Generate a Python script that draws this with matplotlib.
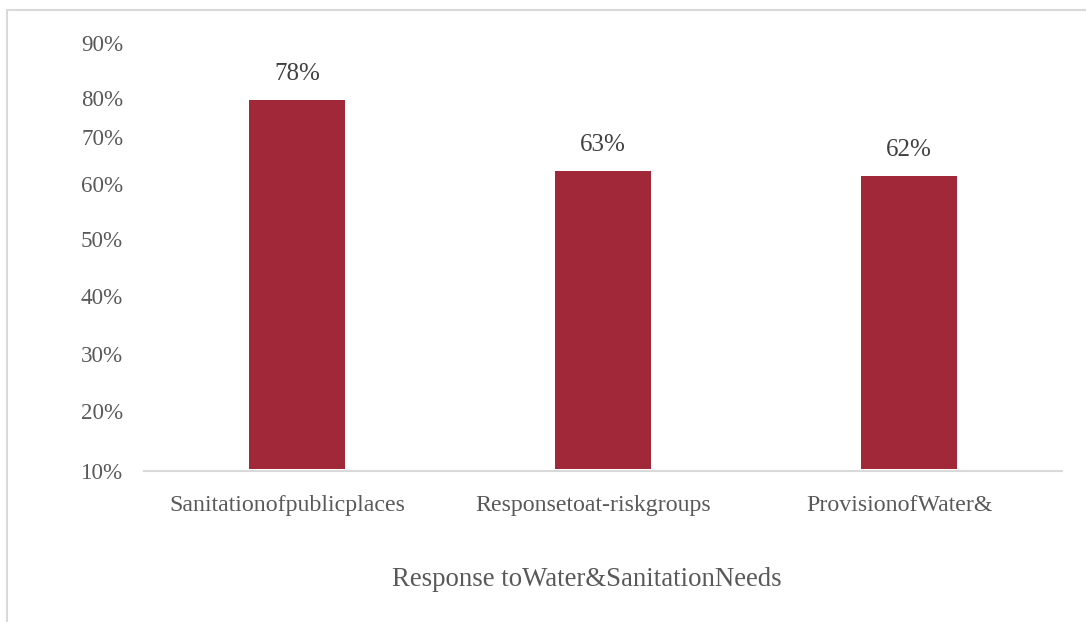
import matplotlib
matplotlib.use("Agg")
import matplotlib.pyplot as plt
from matplotlib.patches import Rectangle
from matplotlib.transforms import ScaledTranslation

# ---- data ----
categories = ["Sanitationofpublicplaces", "Responsetoat-riskgroups", "ProvisionofWater&"]
values = [78, 63, 62]
value_labels = ["78%", "63%", "62%"]
ytick_labels = ["10%", "20%", "30%", "40%", "50%", "60%", "70%", "80%", "90%"]
xlabel_text = "Response toWater&SanitationNeeds"

# ---- layout (uneven tick label placement as in the source) ----
ytick_pos = [-0.4, 12.2, 24.4, 36.6, 48.7, 60.3, 70.2, 78.4, 89.9]

W, H = 1086, 622
fig = plt.figure(figsize=(W / 100, H / 100), dpi=100)
plt.rcParams['font.family'] = ['Liberation Serif', 'DejaVu Serif']

ax = fig.add_axes([144 / W, (H - 471) / H, (1062 - 144) / W, (471 - 43) / H])

bar_color = "#A12838"
x = list(range(len(categories)))
ax.bar(x, values, width=0.314, color=bar_color, zorder=3)
ax.set_xlim(-0.5, len(categories) - 0.5)
ax.set_ylim(0, 90)

for xi, v, lab in zip(x, values, value_labels):
    ax.annotate(lab, (xi, v), xytext=(0, 18.5), textcoords="offset points",
                ha="center", va="center", fontsize=18, color="#404040")

ax.set_xticks(x)
ax.set_xticklabels(categories, fontsize=17.2, color="#595959")
ax.set_yticks(ytick_pos)
ax.set_yticklabels(ytick_labels, fontsize=16.6, color="#595959")
ax.tick_params(axis="both", length=0)
ax.tick_params(axis="x", pad=17)
ax.tick_params(axis="y", pad=15)

shift = ScaledTranslation(-10 / 100, 0, fig.dpi_scale_trans)
for lbl in ax.get_xticklabels():
    lbl.set_transform(lbl.get_transform() + shift)

for s in ["top", "right", "left"]:
    ax.spines[s].set_visible(False)
ax.spines["bottom"].set_color("#d9d9d9")
ax.spines["bottom"].set_linewidth(1.5)

fig.text(587 / W, (H - 580) / H, xlabel_text, ha="center", va="center",
         fontsize=19.3, color="#595959")

# outer chart frame
fig.patches.append(Rectangle((6.5 / W, -0.1), 1.2, (H - 10) / H + 0.1,
                             transform=fig.transFigure, fill=False,
                             edgecolor="#d9d9d9", linewidth=1.5))

fig.savefig("out.png", dpi=100)
